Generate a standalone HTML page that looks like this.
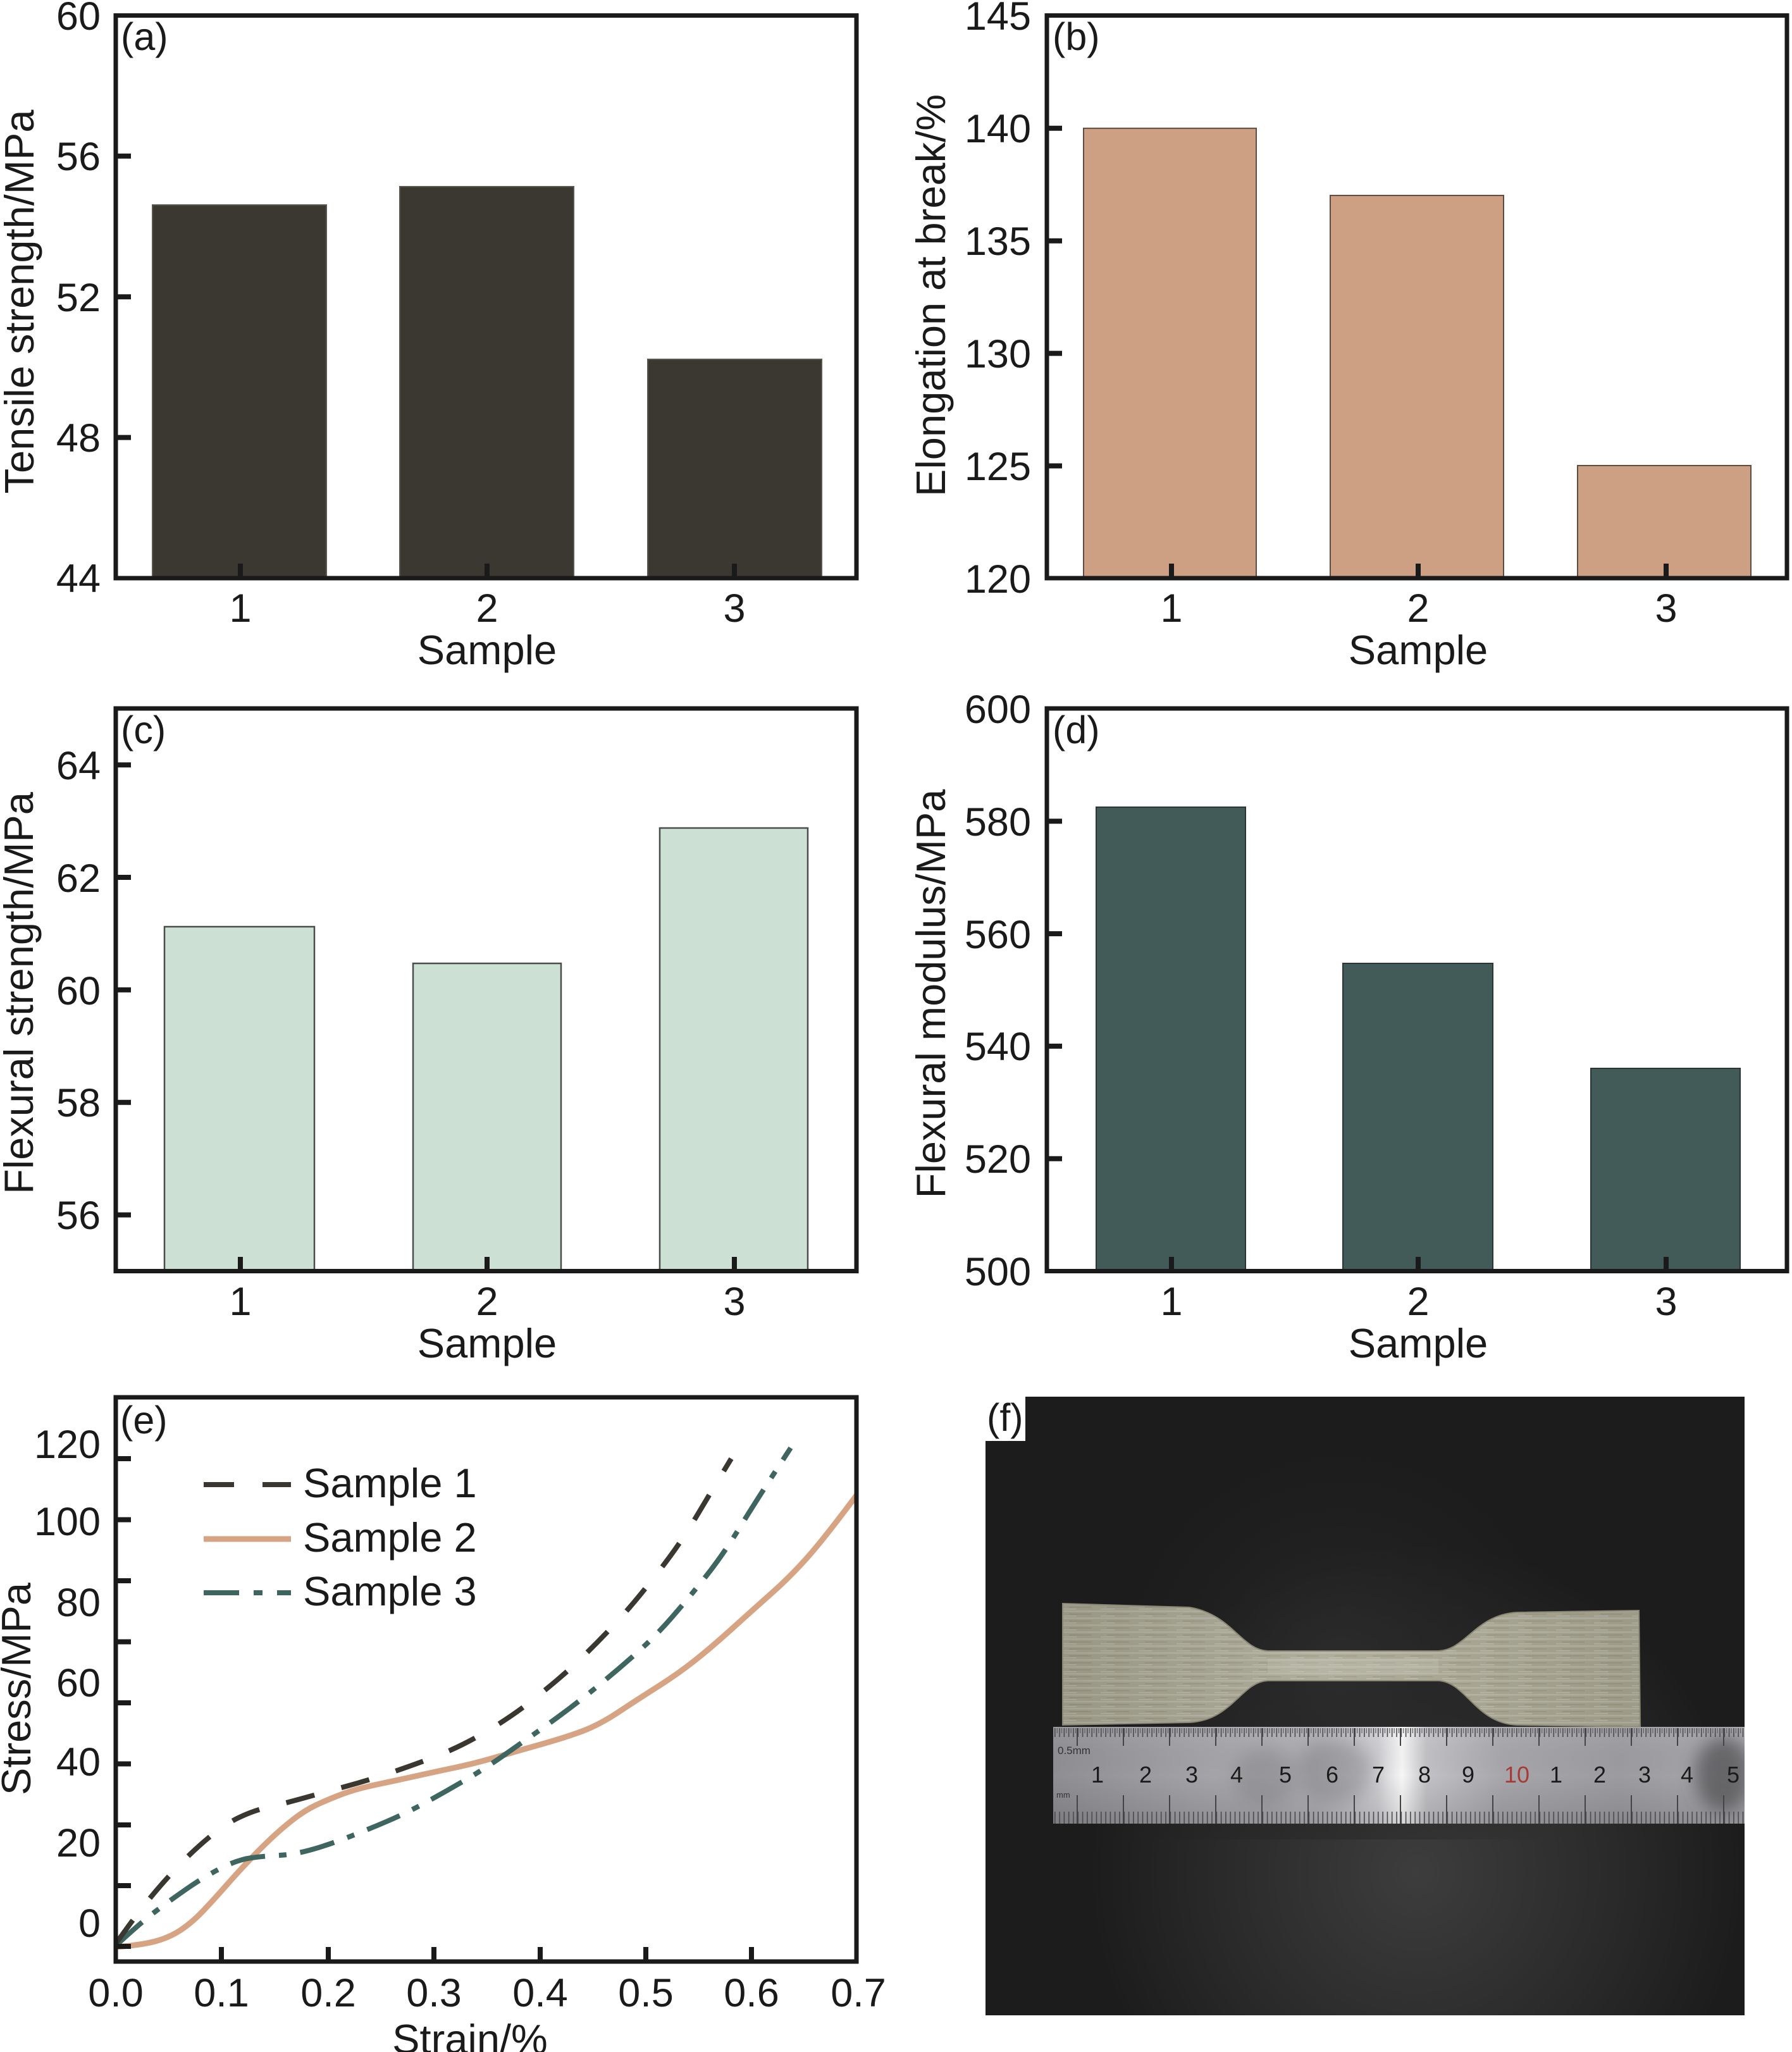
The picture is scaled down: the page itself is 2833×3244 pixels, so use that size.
<!DOCTYPE html>
<html>
<head>
<meta charset="utf-8">
<style>
html,body{margin:0;padding:0;background:#fff;}
svg{display:block;}
text{font-family:"Liberation Sans",Arial,Helvetica,sans-serif;fill:#1a1a1a;}
.tk{font-size:63px;}
.ti{font-size:65px;}
.pl{font-size:61px;}
</style>
</head>
<body>
<svg width="2833" height="3244" viewBox="0 0 2833 3244" xmlns="http://www.w3.org/2000/svg">
<defs>
  <radialGradient id="glow" cx="2240" cy="2960" r="520" gradientUnits="userSpaceOnUse">
    <stop offset="0" stop-color="#3d3d3d"/>
    <stop offset="0.6" stop-color="#2a2a2a"/>
    <stop offset="1" stop-color="#1c1c1c"/>
  </radialGradient>
  <radialGradient id="glow2" cx="2120" cy="2640" r="420" gradientUnits="userSpaceOnUse">
    <stop offset="0" stop-color="#2c2c2c"/>
    <stop offset="1" stop-color="#1c1c1c" stop-opacity="0"/>
  </radialGradient>
  <linearGradient id="ruler" x1="1665" y1="0" x2="2758" y2="0" gradientUnits="userSpaceOnUse">
    <stop offset="0" stop-color="#8f8f93"/>
    <stop offset="0.2" stop-color="#a2a2a6"/>
    <stop offset="0.38" stop-color="#b0b0b4"/>
    <stop offset="0.47" stop-color="#cfcfd3"/>
    <stop offset="0.505" stop-color="#f6f6f6"/>
    <stop offset="0.54" stop-color="#c2c2c6"/>
    <stop offset="0.65" stop-color="#a7a7ab"/>
    <stop offset="0.82" stop-color="#9c9ca0"/>
    <stop offset="1" stop-color="#a9a9ad"/>
  </linearGradient>
  <linearGradient id="rulerV" x1="0" y1="2730" x2="0" y2="2883" gradientUnits="userSpaceOnUse">
    <stop offset="0" stop-color="#ffffff" stop-opacity="0.08"/>
    <stop offset="0.5" stop-color="#000000" stop-opacity="0"/>
    <stop offset="1" stop-color="#000000" stop-opacity="0.12"/>
  </linearGradient>
  <pattern id="mmTop" x="1665" y="2732" width="7.3" height="20" patternUnits="userSpaceOnUse">
    <rect x="2" y="0" width="1.6" height="14" fill="#4a4a4e"/>
    <rect x="5.65" y="0" width="1.2" height="8" fill="#5a5a5e"/>
  </pattern>
  <pattern id="mmBot" x="1665" y="2850" width="7.3" height="33" patternUnits="userSpaceOnUse">
    <rect x="2" y="14" width="1.6" height="19" fill="#4a4a4e"/>
  </pattern>
  <pattern id="streak" x="0" y="2535" width="60" height="11" patternUnits="userSpaceOnUse">
    <rect width="60" height="11" fill="#a6a490"/>
    <rect y="0" width="60" height="2.5" fill="#b4b2a2"/>
    <rect x="10" y="5" width="35" height="1.5" fill="#98957f"/>
    <rect x="0" y="8" width="22" height="1.5" fill="#b8b6a6"/>
  </pattern>
  <linearGradient id="specShade" x1="1680" y1="0" x2="2591" y2="0" gradientUnits="userSpaceOnUse">
    <stop offset="0" stop-color="#000" stop-opacity="0.08"/>
    <stop offset="0.45" stop-color="#fff" stop-opacity="0.10"/>
    <stop offset="0.6" stop-color="#fff" stop-opacity="0.06"/>
    <stop offset="1" stop-color="#000" stop-opacity="0.06"/>
  </linearGradient>
  <filter id="blur" x="-50%" y="-50%" width="200%" height="200%">
    <feGaussianBlur stdDeviation="14"/>
  </filter>
  <clipPath id="clipE"><rect x="186" y="2212" width="1165" height="886"/></clipPath>
  <clipPath id="clipR"><rect x="1665" y="2730" width="1093" height="153"/></clipPath>
</defs>

<!-- ================= Panel (a) ================= -->
<rect x="241" y="324" width="275" height="590" fill="#3b3832" stroke="#5a5650" stroke-width="2"/>
<rect x="632" y="295" width="275" height="619" fill="#3b3832" stroke="#5a5650" stroke-width="2"/>
<rect x="1024" y="568" width="275" height="346" fill="#3b3832" stroke="#5a5650" stroke-width="2"/>
<rect x="183" y="24.5" width="1171" height="889.5" fill="none" stroke="#1a1a1a" stroke-width="7"/>
<g stroke="#1a1a1a" stroke-width="8">
  <line x1="186" y1="246.8" x2="207" y2="246.8"/>
  <line x1="186" y1="469.2" x2="207" y2="469.2"/>
  <line x1="186" y1="691.6" x2="207" y2="691.6"/>
  <line x1="380" y1="891" x2="380" y2="911"/>
  <line x1="770" y1="891" x2="770" y2="911"/>
  <line x1="1161" y1="891" x2="1161" y2="911"/>
</g>
<g class="tk" text-anchor="end">
  <text x="159" y="47">60</text>
  <text x="159" y="269">56</text>
  <text x="159" y="492">52</text>
  <text x="159" y="714">48</text>
  <text x="159" y="936">44</text>
</g>
<g class="tk" text-anchor="middle">
  <text x="380" y="983">1</text>
  <text x="770" y="983">2</text>
  <text x="1161" y="983">3</text>
</g>
<text class="ti" x="770" y="1050" text-anchor="middle">Sample</text>
<text class="pl" x="191" y="79">(a)</text>
<text class="ti" transform="translate(53,477) rotate(-90)" text-anchor="middle">Tensile strength/MPa</text>

<!-- ================= Panel (b) ================= -->
<rect x="1713" y="202.8" width="273" height="711" fill="#cda084" stroke="#5e4d42" stroke-width="2"/>
<rect x="2103" y="309" width="274" height="605" fill="#cda084" stroke="#5e4d42" stroke-width="2"/>
<rect x="2494" y="736" width="274" height="178" fill="#cda084" stroke="#5e4d42" stroke-width="2"/>
<rect x="1655" y="24.5" width="1170" height="889.5" fill="none" stroke="#1a1a1a" stroke-width="7"/>
<g stroke="#1a1a1a" stroke-width="8">
  <line x1="1658" y1="202.8" x2="1679" y2="202.8"/>
  <line x1="1658" y1="380.7" x2="1679" y2="380.7"/>
  <line x1="1658" y1="558.6" x2="1679" y2="558.6"/>
  <line x1="1658" y1="736.5" x2="1679" y2="736.5"/>
  <line x1="1852" y1="891" x2="1852" y2="911"/>
  <line x1="2242" y1="891" x2="2242" y2="911"/>
  <line x1="2634" y1="891" x2="2634" y2="911"/>
</g>
<g class="tk" text-anchor="end">
  <text x="1630" y="47">145</text>
  <text x="1630" y="225">140</text>
  <text x="1630" y="403">135</text>
  <text x="1630" y="581">130</text>
  <text x="1630" y="759">125</text>
  <text x="1630" y="937">120</text>
</g>
<g class="tk" text-anchor="middle">
  <text x="1852" y="983">1</text>
  <text x="2242" y="983">2</text>
  <text x="2634" y="983">3</text>
</g>
<text class="ti" x="2242" y="1050" text-anchor="middle">Sample</text>
<text class="pl" x="1664" y="79">(b)</text>
<text class="ti" transform="translate(1494,467) rotate(-90)" text-anchor="middle">Elongation at break/%</text>

<!-- ================= Panel (c) ================= -->
<rect x="260" y="1465" width="237" height="545" fill="#cde0d4" stroke="#4c4c4c" stroke-width="2.5"/>
<rect x="653" y="1523" width="234" height="487" fill="#cde0d4" stroke="#4c4c4c" stroke-width="2.5"/>
<rect x="1043" y="1309" width="234" height="701" fill="#cde0d4" stroke="#4c4c4c" stroke-width="2.5"/>
<rect x="183" y="1120" width="1171" height="889.5" fill="none" stroke="#1a1a1a" stroke-width="7"/>
<g stroke="#1a1a1a" stroke-width="8">
  <line x1="186" y1="1209.2" x2="207" y2="1209.2"/>
  <line x1="186" y1="1387" x2="207" y2="1387"/>
  <line x1="186" y1="1564.9" x2="207" y2="1564.9"/>
  <line x1="186" y1="1742.7" x2="207" y2="1742.7"/>
  <line x1="186" y1="1920.6" x2="207" y2="1920.6"/>
  <line x1="380" y1="1987" x2="380" y2="2007"/>
  <line x1="770" y1="1987" x2="770" y2="2007"/>
  <line x1="1161" y1="1987" x2="1161" y2="2007"/>
</g>
<g class="tk" text-anchor="end">
  <text x="159" y="1232">64</text>
  <text x="159" y="1410">62</text>
  <text x="159" y="1588">60</text>
  <text x="159" y="1765">58</text>
  <text x="159" y="1943">56</text>
</g>
<g class="tk" text-anchor="middle">
  <text x="380" y="2079">1</text>
  <text x="770" y="2079">2</text>
  <text x="1161" y="2079">3</text>
</g>
<text class="ti" x="770" y="2146" text-anchor="middle">Sample</text>
<text class="pl" x="191" y="1175">(c)</text>
<text class="ti" transform="translate(52,1570) rotate(-90)" text-anchor="middle">Flexural strength/MPa</text>

<!-- ================= Panel (d) ================= -->
<rect x="1733" y="1276" width="236" height="734" fill="#425b58" stroke="#2b3634" stroke-width="2"/>
<rect x="2123" y="1523" width="237" height="487" fill="#425b58" stroke="#2b3634" stroke-width="2"/>
<rect x="2515" y="1689" width="236" height="321" fill="#425b58" stroke="#2b3634" stroke-width="2"/>
<rect x="1655" y="1120" width="1170" height="889.5" fill="none" stroke="#1a1a1a" stroke-width="7"/>
<g stroke="#1a1a1a" stroke-width="8">
  <line x1="1658" y1="1298.3" x2="1679" y2="1298.3"/>
  <line x1="1658" y1="1476.1" x2="1679" y2="1476.1"/>
  <line x1="1658" y1="1653.9" x2="1679" y2="1653.9"/>
  <line x1="1658" y1="1831.7" x2="1679" y2="1831.7"/>
  <line x1="1852" y1="1987" x2="1852" y2="2007"/>
  <line x1="2242" y1="1987" x2="2242" y2="2007"/>
  <line x1="2634" y1="1987" x2="2634" y2="2007"/>
</g>
<g class="tk" text-anchor="end">
  <text x="1630" y="1143">600</text>
  <text x="1630" y="1321">580</text>
  <text x="1630" y="1499">560</text>
  <text x="1630" y="1676">540</text>
  <text x="1630" y="1854">520</text>
  <text x="1630" y="2032">500</text>
</g>
<g class="tk" text-anchor="middle">
  <text x="1852" y="2079">1</text>
  <text x="2242" y="2079">2</text>
  <text x="2634" y="2079">3</text>
</g>
<text class="ti" x="2242" y="2146" text-anchor="middle">Sample</text>
<text class="pl" x="1664" y="1175">(d)</text>
<text class="ti" transform="translate(1494,1571) rotate(-90)" text-anchor="middle">Flexural modulus/MPa</text>

<!-- ================= Panel (e) ================= -->
<g clip-path="url(#clipE)" fill="none" stroke-linejoin="round">
  <path stroke="#d6a383" stroke-width="9" d="M183,3078 Q223,3075 245.5,3069 Q268,3063 286,3051 Q304,3039 321.5,3020.5 Q339,3002 357,2981.5 Q375,2961 393,2942 Q411,2923 428.5,2906.5 Q446,2890 464,2876 Q482,2862 500,2853.5 Q518,2845 540.5,2836.5 Q563,2828 594,2821.5 Q625,2815 656.5,2808 Q688,2801 719,2794.5 Q750,2788 786,2777.5 Q822,2767 857.5,2757 Q893,2747 920,2737 Q947,2727 978,2706.5 Q1009,2686 1040.5,2666 Q1072,2646 1098.5,2625 Q1125,2604 1156.5,2575.5 Q1188,2547 1219,2519.5 Q1250,2492 1277,2461.5 Q1304,2431 1357,2360"/>
  <path stroke="#3e6560" stroke-width="8" stroke-dasharray="56 22 12 22" d="M183,3076 Q223,3039 245.5,3022 Q268,3005 294.5,2986.5 Q321,2968 348,2954 Q375,2940 397.5,2937 Q420,2934 442,2933 Q464,2932 491,2924.5 Q518,2917 549,2905 Q580,2893 611.5,2879.5 Q643,2866 674,2849 Q705,2832 736.5,2813.5 Q768,2795 795,2776 Q822,2757 848.5,2738.5 Q875,2720 902,2699.5 Q929,2679 955.5,2657 Q982,2635 1009,2611 Q1036,2587 1062.5,2556.5 Q1089,2526 1116,2492 Q1143,2458 1170,2414 Q1197,2370 1250,2289"/>
  <path stroke="#3a3731" stroke-width="8" stroke-dasharray="46 44" d="M183,3073 Q214,3029 236.5,3001.5 Q259,2974 283.5,2948.5 Q308,2923 332.5,2903 Q357,2883 379.5,2872.5 Q402,2862 424,2857 Q446,2852 482,2842 Q518,2832 549,2823.5 Q580,2815 611.5,2804.5 Q643,2794 674,2782.5 Q705,2771 732,2757.5 Q759,2744 786,2727 Q813,2710 835,2693 Q857,2676 879.5,2657 Q902,2638 924.5,2616 Q947,2594 969,2570.5 Q991,2547 1013.5,2519.5 Q1036,2492 1058.5,2461.5 Q1081,2431 1103,2394 Q1125,2357 1156,2306"/>
</g>
<rect x="183" y="2209" width="1171" height="892" fill="none" stroke="#1a1a1a" stroke-width="7"/>
<g stroke="#1a1a1a" stroke-width="8">
  <line x1="186" y1="2306" x2="207" y2="2306"/>
  <line x1="186" y1="2402.5" x2="207" y2="2402.5"/>
  <line x1="186" y1="2499" x2="207" y2="2499"/>
  <line x1="186" y1="2595.5" x2="207" y2="2595.5"/>
  <line x1="186" y1="2692" x2="207" y2="2692"/>
  <line x1="186" y1="2788.5" x2="207" y2="2788.5"/>
  <line x1="186" y1="2885" x2="207" y2="2885"/>
  <line x1="186" y1="2981" x2="207" y2="2981"/>
  <line x1="186" y1="3077" x2="207" y2="3077"/>
  <line x1="350" y1="3078" x2="350" y2="3098"/>
  <line x1="519" y1="3078" x2="519" y2="3098"/>
  <line x1="686" y1="3078" x2="686" y2="3098"/>
  <line x1="854" y1="3078" x2="854" y2="3098"/>
  <line x1="1021" y1="3078" x2="1021" y2="3098"/>
  <line x1="1188" y1="3078" x2="1188" y2="3098"/>
</g>
<g class="tk" text-anchor="end">
  <text x="159" y="2305">120</text>
  <text x="159" y="2427">100</text>
  <text x="159" y="2555">80</text>
  <text x="159" y="2682">60</text>
  <text x="159" y="2807">40</text>
  <text x="159" y="2935">20</text>
  <text x="159" y="3062">0</text>
</g>
<g class="tk" text-anchor="middle">
  <text x="183" y="3172">0.0</text>
  <text x="350" y="3172">0.1</text>
  <text x="519" y="3172">0.2</text>
  <text x="686" y="3172">0.3</text>
  <text x="854" y="3172">0.4</text>
  <text x="1021" y="3172">0.5</text>
  <text x="1188" y="3172">0.6</text>
  <text x="1357" y="3172">0.7</text>
</g>
<text class="ti" x="743" y="3246" text-anchor="middle">Strain/%</text>
<text class="pl" x="190" y="2266">(e)</text>
<text class="ti" transform="translate(48,2670) rotate(-90)" text-anchor="middle">Stress/MPa</text>
<!-- legend -->
<g fill="none">
  <line x1="322" y1="2347" x2="370" y2="2347" stroke="#3a3731" stroke-width="8"/>
  <line x1="415" y1="2347" x2="460" y2="2347" stroke="#3a3731" stroke-width="8"/>
  <line x1="322" y1="2433" x2="460" y2="2433" stroke="#d6a383" stroke-width="9"/>
  <line x1="322" y1="2518" x2="378" y2="2518" stroke="#3e6560" stroke-width="8"/>
  <line x1="401" y1="2518" x2="415" y2="2518" stroke="#3e6560" stroke-width="8"/>
  <line x1="438" y1="2518" x2="460" y2="2518" stroke="#3e6560" stroke-width="8"/>
</g>
<text class="ti" x="479" y="2367">Sample 1</text>
<text class="ti" x="479" y="2453">Sample 2</text>
<text class="ti" x="479" y="2538">Sample 3</text>

<!-- ================= Panel (f) photo ================= -->
<rect x="1558" y="2208" width="1200" height="978" fill="#1b1b1b"/>
<rect x="1558" y="2208" width="1200" height="978" fill="url(#glow)"/>
<rect x="1558" y="2208" width="1200" height="700" fill="url(#glow2)"/>
<!-- specimen -->
<path d="M1680,2535 L1880,2541 C1948,2552 1962,2608 2004,2610 L2274,2610 C2318,2608 2332,2553 2398,2549 L2591,2546 L2593,2730 L2398,2727 C2332,2724 2318,2659 2274,2657 L2004,2657 C1962,2659 1948,2720 1880,2723 L1680,2727 Z" fill="url(#streak)"/>
<path d="M1680,2535 L1880,2541 C1948,2552 1962,2608 2004,2610 L2274,2610 C2318,2608 2332,2553 2398,2549 L2591,2546 L2593,2730 L2398,2727 C2332,2724 2318,2659 2274,2657 L2004,2657 C1962,2659 1948,2720 1880,2723 L1680,2727 Z" fill="url(#specShade)" stroke="#8a8774" stroke-width="2"/>
<rect x="2004" y="2622" width="270" height="24" fill="#c8c6b8" opacity="0.3"/>
<!-- ruler -->
<rect x="1665" y="2730" width="1093" height="153" fill="url(#ruler)"/>
<rect x="1665" y="2730" width="1093" height="153" fill="url(#rulerV)"/>
<g clip-path="url(#clipR)">
  <ellipse cx="2725" cy="2805" rx="45" ry="60" fill="#3c3c40" opacity="0.6" filter="url(#blur)"/>
  <ellipse cx="2110" cy="2800" rx="60" ry="50" fill="#6a6a70" opacity="0.35" filter="url(#blur)"/>
  <ellipse cx="2000" cy="2810" rx="50" ry="45" fill="#6a6a70" opacity="0.3" filter="url(#blur)"/>
</g>
<rect x="1665" y="2732" width="1093" height="16" fill="url(#mmTop)"/>
<rect x="1665" y="2850" width="1093" height="33" fill="url(#mmBot)"/>
<g stroke="#444448" stroke-width="2">
  <line x1="1703" y1="2732" x2="1703" y2="2760"/><line x1="1776" y1="2732" x2="1776" y2="2760"/>
  <line x1="1849" y1="2732" x2="1849" y2="2760"/><line x1="1922" y1="2732" x2="1922" y2="2760"/>
  <line x1="1995" y1="2732" x2="1995" y2="2760"/><line x1="2068" y1="2732" x2="2068" y2="2760"/>
  <line x1="2141" y1="2732" x2="2141" y2="2760"/><line x1="2214" y1="2732" x2="2214" y2="2760"/>
  <line x1="2287" y1="2732" x2="2287" y2="2760"/><line x1="2360" y1="2732" x2="2360" y2="2760"/>
  <line x1="2433" y1="2732" x2="2433" y2="2760"/><line x1="2506" y1="2732" x2="2506" y2="2760"/>
  <line x1="2579" y1="2732" x2="2579" y2="2760"/><line x1="2652" y1="2732" x2="2652" y2="2760"/>
  <line x1="2725" y1="2732" x2="2725" y2="2760"/>
  <line x1="1703" y1="2838" x2="1703" y2="2883"/><line x1="1776" y1="2838" x2="1776" y2="2883"/>
  <line x1="1849" y1="2838" x2="1849" y2="2883"/><line x1="1922" y1="2838" x2="1922" y2="2883"/>
  <line x1="1995" y1="2838" x2="1995" y2="2883"/><line x1="2068" y1="2838" x2="2068" y2="2883"/>
  <line x1="2141" y1="2838" x2="2141" y2="2883"/><line x1="2214" y1="2838" x2="2214" y2="2883"/>
  <line x1="2287" y1="2838" x2="2287" y2="2883"/><line x1="2360" y1="2838" x2="2360" y2="2883"/>
  <line x1="2433" y1="2838" x2="2433" y2="2883"/><line x1="2506" y1="2838" x2="2506" y2="2883"/>
  <line x1="2579" y1="2838" x2="2579" y2="2883"/><line x1="2652" y1="2838" x2="2652" y2="2883"/>
  <line x1="2725" y1="2838" x2="2725" y2="2883"/>
</g>
<text x="1672" y="2773" style="font-size:17px;fill:#333;">0.5mm</text>
<text x="1670" y="2842" style="font-size:13px;fill:#333;">mm</text>
<g style="font-size:36px;fill:#2c2c30;" text-anchor="middle">
  <text x="1735" y="2818">1</text>
  <text x="1811" y="2818">2</text>
  <text x="1884" y="2818">3</text>
  <text x="1955" y="2818">4</text>
  <text x="2032" y="2818">5</text>
  <text x="2106" y="2818">6</text>
  <text x="2179" y="2818">7</text>
  <text x="2252" y="2818">8</text>
  <text x="2321" y="2818">9</text>
  <text x="2398" y="2818" style="fill:#a83a36;">10</text>
  <text x="2460" y="2818">1</text>
  <text x="2529" y="2818">2</text>
  <text x="2600" y="2818">3</text>
  <text x="2667" y="2818">4</text>
  <text x="2740" y="2818">5</text>
</g>
<!-- (f) label box -->
<rect x="1558" y="2208" width="63" height="70" fill="#ffffff"/>
<text class="pl" x="1560" y="2262">(f)</text>
</svg>
</body>
</html>
